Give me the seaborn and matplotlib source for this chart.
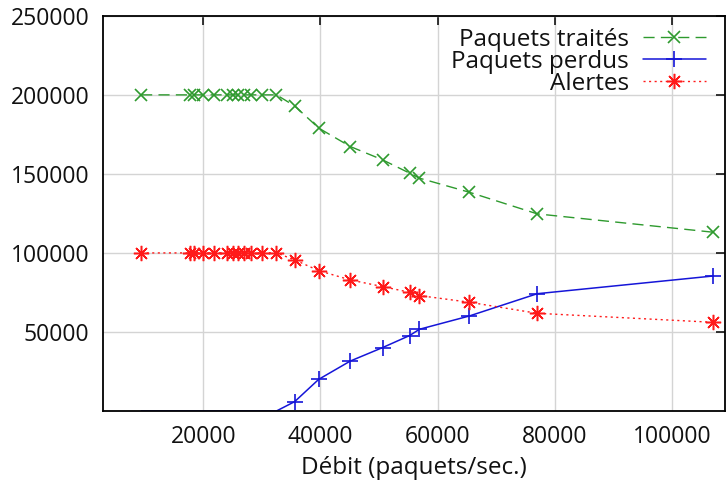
import matplotlib
matplotlib.use("Agg")
import matplotlib.pyplot as plt
import seaborn as sns
import numpy as np

# Data
debit = [9400, 17700, 18500, 19900, 21900, 24100, 25000, 25900, 26900, 28100,
         30100, 32500, 35600, 39700, 45100, 50600, 55200, 56900, 65400, 77000, 107000]
traites = [200000, 200000, 200000, 200000, 200000, 200000, 200000, 200000, 200000, 200000,
           200000, 200000, 193000, 179000, 167300, 158900, 150500, 147300, 138400, 124700, 113100]
perdus = [0, 0, 0, 0, 0, 0, 0, 0, 0, 0,
          0, 0, 5900, 20000, 31600, 40100, 47700, 51700, 60100, 74200, 85400]
alertes = [100000, 100000, 100000, 100000, 100000, 100000, 100000, 100000, 100000, 100000,
           100000, 100000, 95600, 88800, 82900, 78700, 75100, 73000, 68800, 61800, 56100]

labels = ["Paquets traités", "Paquets perdus", "Alertes"]
xticks = [20000, 40000, 60000, 80000, 100000]
yticks = [50000, 100000, 150000, 200000, 250000]

sns.set_theme(style="white")
plt.rcParams['font.family'] = ['Open Sans', 'DejaVu Sans']

fig = plt.figure(figsize=(7.27, 4.80), dpi=100)
ax = fig.add_axes([0.1417, 0.1438, 0.997 - 0.1417, 0.967 - 0.1438])

green = '#2e9a2e'
blue = '#1515d8'
red = '#ff1a1a'

sns.lineplot(x=debit, y=traites, ax=ax, color=green, marker='x', markersize=9,
             markeredgewidth=1.2, markeredgecolor=green, lw=1.0,
             label=labels[0], sort=False, estimator=None)
sns.lineplot(x=debit, y=perdus, ax=ax, color=blue, marker='+', markersize=11,
             markeredgewidth=1.2, markeredgecolor=blue, lw=1.1,
             label=labels[1], sort=False, estimator=None,
             markevery=[i for i, v in enumerate(perdus) if v > 0])
sns.lineplot(x=debit, y=alertes, ax=ax, color=red, marker=(8, 2, 0), markersize=11,
             markeredgewidth=1.1, markeredgecolor=red, lw=1.0,
             label=labels[2], sort=False, estimator=None)

lines = ax.get_lines()
lines[0].set_dashes([8, 4.5])
lines[1].set_linestyle('-')
lines[2].set_dashes([1.5, 2.5])

ax.set_xlim(2900, 109000)
ax.set_ylim(0, 250000)
ax.set_xticks(xticks)
ax.set_yticks(yticks)
ax.set_xticklabels([str(t) for t in xticks])
ax.set_yticklabels([str(t) for t in yticks])

ax.grid(True, color='#d4d4d4', linewidth=1.0)
ax.set_axisbelow(True)
for s in ax.spines.values():
    s.set_color('black')
    s.set_linewidth(1.3)
ax.tick_params(direction='in', length=6.5, width=1.1, color='black',
               top=True, right=True, labelsize=16.5, pad=10, labelcolor='#111111')

ax.set_xlabel("Débit (paquets/sec.)", fontsize=17.5, labelpad=5, color='#111111')
ax.set_ylabel("")

leg = ax.legend(loc='upper right', frameon=False, markerfirst=False,
                fontsize=17.5, handlelength=2.6, handletextpad=0.55,
                labelspacing=-0.08, borderaxespad=0.0,
                bbox_to_anchor=(0.985, 0.995))
for t in leg.get_texts():
    t.set_color('#111111')

fig.savefig("out.png", dpi=100)
